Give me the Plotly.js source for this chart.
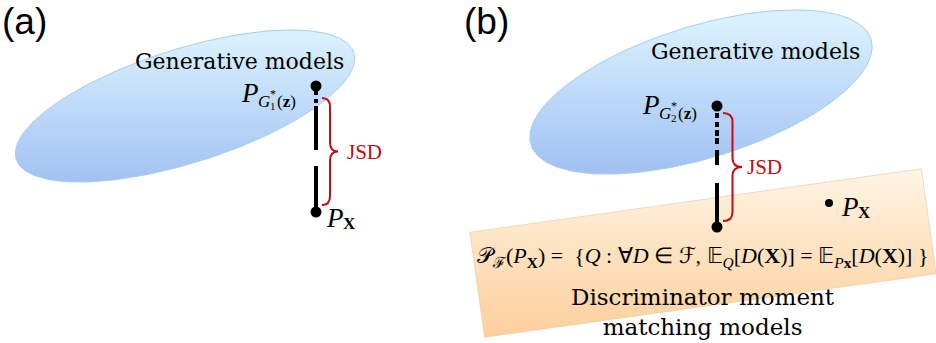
<!DOCTYPE html>
<html>
<head>
<meta charset="utf-8">
<script src="https://cdn.plot.ly/plotly-3.0.1.min.js"></script>
<style>
  html, body { margin: 0; padding: 0; background: #ffffff; }
  #fig { width: 936px; height: 343px; }
</style>
</head>
<body>
<div id="fig"></div>
<script>
// Text content of the two-panel diagram
const panelLabels = ['(a)', '(b)'];
const modelSetLabels = ['Generative models', 'Generative models'];
const momentSetLabel = 'Discriminator moment<br>matching models';
const distanceLabels = ['JSD', 'JSD'];
const generatorIndex = ['1', '2'];
const momentSetFormula =
  '𝒫<sub>ℱ</sub>(<i>P</i><sub><b>X</b></sub>) =  ' +
  '{<i>Q</i> : ∀<i>D</i> ∈ ℱ, 𝔼<sub><i>Q</i></sub>[<i>D</i>(<b>X</b>)] = ' +
  '𝔼<sub><i>P</i><b>x</b></sub>[<i>D</i>(<b>X</b>)] }';

// ---- geometry helpers (axes are set up 1 unit = 1 pixel, y downward) ----
function ellipsePath(cx, cy, a, b, deg, n) {
  const th = deg * Math.PI / 180;
  const xs = [], ys = [];
  for (let i = 0; i <= n; i++) {
    const t = 2 * Math.PI * i / n;
    xs.push(cx + a * Math.cos(t) * Math.cos(th) + b * Math.sin(t) * Math.sin(th));
    ys.push(cy - a * Math.cos(t) * Math.sin(th) + b * Math.sin(t) * Math.cos(th));
  }
  return { x: xs, y: ys };
}
function rotatedRect(cx, cy, w, h, deg) {
  const th = deg * Math.PI / 180;
  const ux = [Math.cos(th), -Math.sin(th)], vy = [Math.sin(th), Math.cos(th)];
  const xs = [], ys = [];
  [[-1, -1], [1, -1], [1, 1], [-1, 1], [-1, -1]].forEach(([p, q]) => {
    xs.push(cx + p * w / 2 * ux[0] + q * h / 2 * vy[0]);
    ys.push(cy + p * w / 2 * ux[1] + q * h / 2 * vy[1]);
  });
  return { x: xs, y: ys };
}
function bracePath(x0, y0, y1, w, r) {
  const ym = (y0 + y1) / 2, xb = x0 + w, xt = x0 + 2 * w;
  return `M ${x0} ${y0} Q ${xb} ${y0} ${xb} ${y0 + r} L ${xb} ${ym - r} ` +
         `Q ${xb} ${ym} ${xt} ${ym} Q ${xb} ${ym} ${xb} ${ym + r} ` +
         `L ${xb} ${y1 - r} Q ${xb} ${y1} ${x0} ${y1}`;
}

const BLUE_SCALE = [[0, '#d9f1ff'], [1, '#a3c2f2']];
const ORANGE_SCALE = [[0, '#fff3e2'], [1, '#fcd09c']];
const SERIF = 'DejaVu Serif, serif';
const MATH = 'Liberation Serif, serif';
const RED = '#c00d12';

const traces = [];

// orange set (panel b), drawn first so the blue set sits above it
const rect = rotatedRect(703, 253, 456, 106, 8);
traces.push({
  x: rect.x, y: rect.y, mode: 'lines', fill: 'toself',
  line: { color: 'rgba(230,200,160,0.6)', width: 1 },
  fillgradient: { type: 'vertical', colorscale: ORANGE_SCALE, start: 175, stop: 335 },
  hoverinfo: 'skip', showlegend: false
});

// blue generative-model sets
[[185, 106, 177, 57, 17.5], [701, 92, 178, 66, 17.2]].forEach(([cx, cy, a, b, d]) => {
  const e = ellipsePath(cx, cy, a, b, d, 240);
  traces.push({
    x: e.x, y: e.y, mode: 'lines', fill: 'toself',
    line: { color: '#a7cdef', width: 1 },
    fillgradient: { type: 'vertical', colorscale: BLUE_SCALE, start: cy - 70, stop: cy + 75 },
    hoverinfo: 'skip', showlegend: false
  });
});

// connecting strokes: dotted/dashed near the generator, solid near the data
traces.push({
  x: [316, 316], y: [90, 212], mode: 'lines',
  line: { color: '#000', width: 4, dash: '5px,4px,4px,3px,44px,16px,46px,60px' },
  hoverinfo: 'skip', showlegend: false
});
traces.push({
  x: [717, 717], y: [113, 227], mode: 'lines',
  line: { color: '#000', width: 4, dash: '5px,4px,5px,3px,6px,2px,6px,6px,15px,18px,44px,60px' },
  hoverinfo: 'skip', showlegend: false
});

// distribution points
traces.push({
  x: [316, 316, 717, 717], y: [86, 212, 106, 227], mode: 'markers',
  marker: { color: '#000', size: 11 }, hoverinfo: 'skip', showlegend: false
});
traces.push({
  x: [829], y: [203], mode: 'markers',
  marker: { color: '#000', size: 8 }, hoverinfo: 'skip', showlegend: false
});

const shapes = [
  { type: 'path', path: bracePath(322, 98, 205, 8, 9), line: { color: RED, width: 2 }, xref: 'x', yref: 'y' },
  { type: 'path', path: bracePath(723, 113, 221, 9.5, 9), line: { color: RED, width: 2 }, xref: 'x', yref: 'y' }
];

function txt(x, y, text, size, opts) {
  return Object.assign({
    x, y, text, showarrow: false, xref: 'x', yref: 'y',
    xanchor: 'left', yanchor: 'middle',
    font: { family: SERIF, size, color: '#000' }
  }, opts || {});
}
function mathTxt(x, y, text, size) {
  return txt(x, y, text, size, { font: { family: MATH, size, color: '#000' } });
}

// P_{G*_k(z)} label built from parts so the * sits above the index
function generatorLabel(xr, y, k) {
  return [
    mathTxt(xr - 73, y - 3, '<i>P</i>', 27),
    mathTxt(xr - 56, y + 5, '<i>G</i>', 17),
    mathTxt(xr - 44, y - 2, '*', 12),
    mathTxt(xr - 44.5, y + 10, generatorIndex[k], 11),
    mathTxt(xr - 37, y + 5, '(<b>z</b>)', 17)
  ];
}
function dataLabel(x, y) {
  return [
    mathTxt(x, y, '<i>P</i>', 27),
    mathTxt(x + 17, y + 5, '<b>X</b>', 17)
  ];
}

const panelLabel = (x, text) => txt(x, 0, text, 37, {
  yanchor: 'top', borderpad: 0,
  font: { family: 'Liberation Sans, Arial', size: 37, color: '#000' }
});

const annotations = [
  panelLabel(1, panelLabels[0]),
  panelLabel(463, panelLabels[1]),
  txt(239, 61, modelSetLabels[0], 22, { xanchor: 'center' }),
  txt(755, 51, modelSetLabels[1], 22, { xanchor: 'center' }),
  txt(345, 152, distanceLabels[0], 20, { font: { family: MATH, size: 21, color: RED } }),
  txt(745, 167, distanceLabels[1], 20, { font: { family: MATH, size: 21, color: RED } }),
  txt(703, 257, momentSetFormula, 22, { xanchor: 'center', font: { family: MATH, size: 22, color: '#000' } }),
  txt(703, 312, momentSetLabel, 23, { xanchor: 'center' }),
  ...generatorLabel(312, 96, 0),
  ...generatorLabel(713, 108, 1),
  ...dataLabel(324, 218),
  ...dataLabel(839, 207)
];

const layout = {
  width: 936, height: 343,
  margin: { l: 0, r: 0, t: 0, b: 0 },
  paper_bgcolor: '#ffffff', plot_bgcolor: '#ffffff',
  xaxis: { range: [0, 936], visible: false, fixedrange: true },
  yaxis: { range: [343, 0], visible: false, fixedrange: true },
  shapes, annotations, showlegend: false
};

Plotly.newPlot('fig', traces, layout, { staticPlot: true, displayModeBar: false });
</script>
</body>
</html>
